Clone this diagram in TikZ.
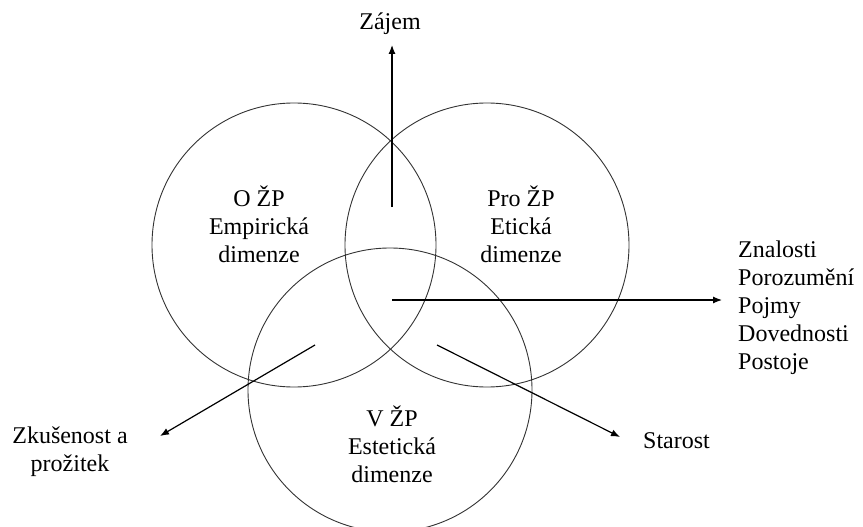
\documentclass[tikz,border=0pt]{standalone}
\usepackage{fontspec}
\setmainfont{Liberation Serif}
\usetikzlibrary{arrows.meta}
\begin{document}
\begin{tikzpicture}[x=1pt,y=-1pt,
  ring/.style={draw=black!80,line width=0.9pt,circle,minimum size=284pt,inner sep=0pt},
  lbl/.style={font=\fontsize{24}{28}\selectfont,align=center,inner sep=0pt,anchor=base},
  arr/.style={draw=black,line width=1.2pt,-{Latex[length=9pt,width=7pt]}}]
\useasboundingbox (0,0) rectangle (863,527);
\node[ring] (L) at (294,245) {};
\node[ring] (R) at (487,245) {};
\node[ring] (B) at (390,390) {};
\node[lbl] (tL) at (259,262) {O ŽP\\Empirická\\dimenze};
\node[lbl] (tR) at (521,262) {Pro ŽP\\Etická\\dimenze};
\node[lbl] (tB) at (392,482) {V ŽP\\Estetická\\dimenze};
\node[lbl] (zaj) at (390,30) {Zájem};
\node[lbl,align=left,anchor=base west] (zn) at (738,369) {Znalosti\\Porozumění\\Pojmy\\Dovednosti\\Postoje};
\node[lbl] (zk) at (70,471) {Zkušenost a\\prožitek};
\node[lbl,anchor=base west] (st) at (643,448) {Starost};
\coordinate (s1) at (392,207);
\coordinate (e1) at (392,45);
\coordinate (s2) at (392,300);
\coordinate (e2) at (722,300);
\coordinate (s3) at (315,345);
\coordinate (e3) at (160,436);
\coordinate (s4) at (437,345);
\coordinate (e4) at (620,437);
\draw[arr] (s1) -- (e1);
\draw[arr] (s2) -- (e2);
\draw[arr] (s3) -- (e3);
\draw[arr] (s4) -- (e4);
\end{tikzpicture}
\end{document}
